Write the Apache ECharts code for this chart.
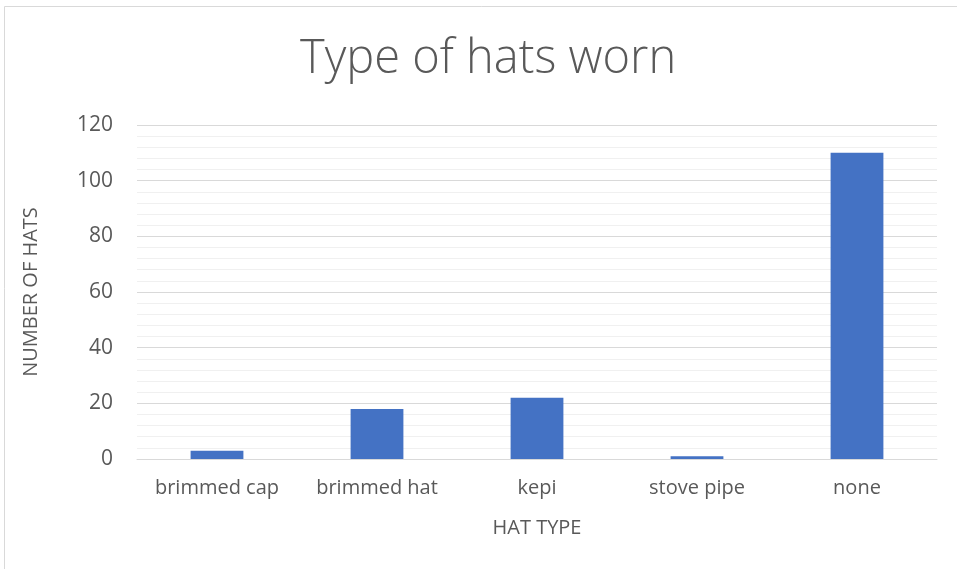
<!DOCTYPE html>
<html><head><meta charset="utf-8">
<script src="https://cdn.jsdelivr.net/npm/echarts@6/dist/echarts.min.js"></script>
<style>html,body{margin:0;padding:0;background:#fff}#c{width:957px;height:569px}</style>
</head><body><div id="c"></div>
<script>
const categories = ['brimmed cap', 'brimmed hat', 'kepi', 'stove pipe', 'none'];
const hatCounts = [3, 18, 22, 1, 110];
const titleText = 'Type of hats worn';
const xName = 'HAT TYPE';
const yName = 'NUMBER OF HATS';

const chart = echarts.init(document.getElementById('c'));
const font = 'Open Sans, Liberation Sans, sans-serif';
chart.setOption({
  animation: false,
  graphic: [{type:'rect', shape:{x:4.5,y:6.5,width:960,height:570}, style:{fill:'none', stroke:'#d9d9d9', lineWidth:1}}],
  title: {text: titleText, left: 300, top: 36, padding: 0, textStyle:{fontFamily: font, fontSize: 47, fontWeight:'lighter', color:'#595959'}},
  grid: {left: 137, right: 20, top: 125, bottom: 110},
  xAxis: {
    type:'category', data: categories,
    name: xName, nameLocation:'middle', nameGap: 59,
    nameTextStyle:{fontFamily: font, fontSize: 20, color:'#595959'},
    axisLine:{lineStyle:{color:'#d9d9d9', width:1}},
    axisTick:{show:false},
    axisLabel:{fontFamily: font, fontSize: 20, color:'#595959', margin: 19, interval: 0, hideOverlap: false}
  },
  yAxis: {
    type:'value', min:0, max:120, interval:20,
    name: yName, nameLocation:'middle', nameGap: 96, nameRotate: 90,
    nameTextStyle:{fontFamily: font, fontSize: 20, color:'#595959'},
    axisLine:{show:false}, axisTick:{show:false},
    axisLabel:{fontFamily: font, fontSize: 21, color:'#595959', margin: 24},
    splitLine:{lineStyle:{color:'#d9d9d9', width:1}},
    minorTick:{show:false, splitNumber:5},
    minorSplitLine:{show:true, lineStyle:{color:'#f0f0f0', width:1}}
  },
  series: [{type:'bar', data: hatCounts, barWidth:'33%', itemStyle:{color:'#4472c4'}}]
});
</script></body></html>
